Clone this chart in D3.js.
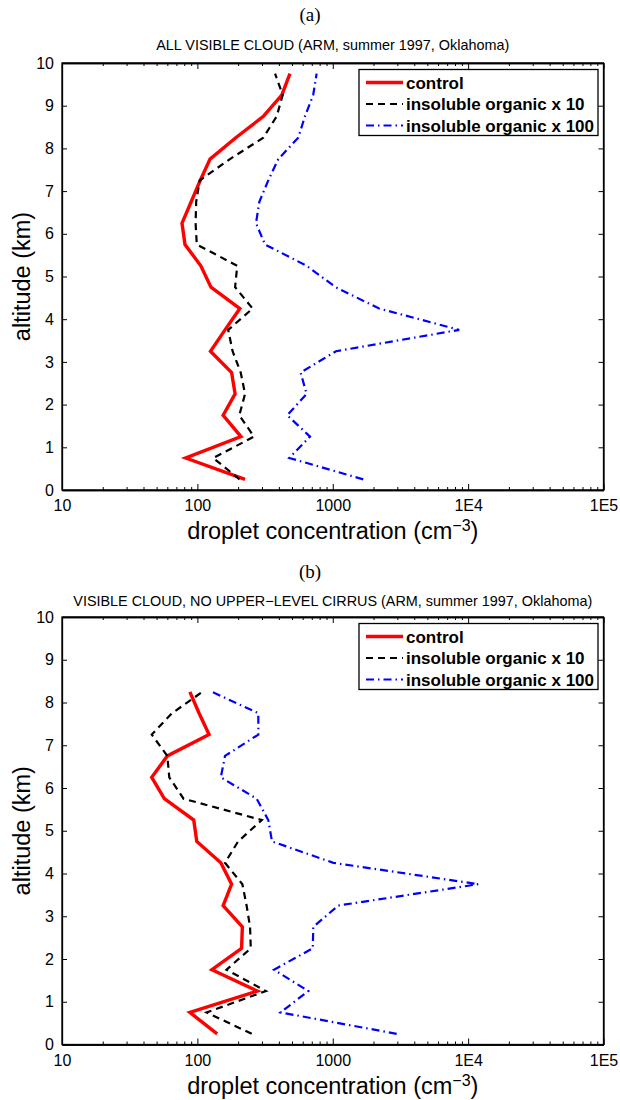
<!DOCTYPE html>
<html>
<head>
<meta charset="utf-8">
<script src="https://cdn.jsdelivr.net/npm/d3@7"></script>
<style>
  html, body { margin: 0; padding: 0; background: #fff; }
  svg { display: block; }
</style>
</head>
<body>
<svg id="chart" width="620" height="1100"></svg>
<script>
// ---------------- data ----------------
const altitudesA = [0.25,0.75,1.25,1.75,2.25,2.75,3.25,3.75,4.25,4.75,5.25,5.75,6.25,6.75,7.25,7.75,8.25,8.75,9.25,9.75];
const controlA  = [225, 82, 210, 155, 190, 179, 125, 160, 206, 126, 106, 81, 77, 90, 105, 124, 192, 307, 420, 483];
const organic10A = [205, 131, 262, 204, 225, 209, 182, 169, 256, 190, 197, 99, 97, 98, 104, 174, 307, 385, 427, 375];
const organic100A = [1680, 477, 679, 461, 641, 579, 1057, 8590, 2200, 1050, 641, 316, 271, 287, 334, 396, 556, 623, 717, 760];

const altitudesB = [0.25,0.75,1.25,1.75,2.25,2.75,3.25,3.75,4.25,4.75,5.25,5.75,6.25,6.75,7.25,7.75,8.25];
const controlB  = [140, 88, 277, 128, 212, 215, 155, 179, 149, 99, 94, 57, 46, 60, 122, 103, 88];
const organic10B = [252, 117, 321, 164, 248, 245, 231, 215, 160, 200, 299, 79, 62, 60, 46, 65, 109];
const organic100B = [2966, 412, 659, 368, 712, 718, 1097, 11900, 1010, 356, 334, 274, 149, 160, 282, 282, 128];

const seriesNames = ["control", "insoluble organic x 10", "insoluble organic x 100"];
const xTickValues = [10, 100, 1000, 10000, 100000];
const xTickLabels = ["10", "100", "1000", "1E4", "1E5"];
const yTickValues = [0,1,2,3,4,5,6,7,8,9,10];
const panelLetters = ["(a)", "(b)"];
const panelTitles = ["ALL VISIBLE CLOUD (ARM, summer 1997, Oklahoma)",
                     "VISIBLE CLOUD, NO UPPER\u2212LEVEL CIRRUS (ARM, summer 1997, Oklahoma)"];
const xAxisTitle = "droplet concentration (cm";
const xAxisSup = "\u22123";
const yAxisTitle = "altitude (km)";

// ---------------- styles ----------------
const styles = [
  {color: "#ff0000", width: 3.4, dash: null},
  {color: "#000000", width: 2.2, dash: "7,5"},
  {color: "#0000ff", width: 2.2, dash: "8,4,1.5,4"}
];
const FONT = "'Liberation Sans', Arial, Helvetica, sans-serif";

const svg = d3.select("#chart");
const left = 62, right = 603.5;
const x = d3.scaleLog().domain([10, 1e5]).range([left, right]);

const panels = [
  {top: 63, bottom: 490, alt: altitudesA, series: [controlA, organic10A, organic100A], letterY: 21, titleY: 50},
  {top: 617, bottom: 1044.5, alt: altitudesB, series: [controlB, organic10B, organic100B], letterY: 578, titleY: 606}
];

panels.forEach((p, pi) => {
  const y = d3.scaleLinear().domain([0, 10]).range([p.bottom, p.top]);
  const g = svg.append("g");

  // panel letter
  g.append("text").attr("x", 310).attr("y", p.letterY)
    .attr("text-anchor", "middle")
    .attr("font-family", "'Liberation Serif', 'Times New Roman', serif")
    .attr("font-size", 19).text(panelLetters[pi]);
  // title
  g.append("text").attr("x", (left + right) / 2).attr("y", p.titleY)
    .attr("text-anchor", "middle")
    .attr("font-family", FONT).attr("font-size", 14.4).text(panelTitles[pi]);

  // axes (ticks inward)
  const minorVals = [];
  for (let e = 1; e < 5; e++) for (let m = 2; m <= 9; m++) minorVals.push(m * Math.pow(10, e));

  const bottomAx = d3.axisBottom(x).tickValues(xTickValues)
    .tickFormat((d, i) => xTickLabels[i]).tickSizeInner(-6).tickSizeOuter(0).tickPadding(10);
  const gb = g.append("g").attr("transform", `translate(0,${p.bottom})`).call(bottomAx);
  gb.selectAll("text").attr("font-family", FONT).attr("font-size", 16).attr("fill", "#000");

  const bottomMinor = d3.axisBottom(x).tickValues(minorVals).tickFormat("").tickSizeInner(-3).tickSizeOuter(0);
  g.append("g").attr("transform", `translate(0,${p.bottom})`).call(bottomMinor);

  const topAx = d3.axisTop(x).tickValues(xTickValues).tickFormat("").tickSizeInner(-6).tickSizeOuter(0);
  g.append("g").attr("transform", `translate(0,${p.top})`).call(topAx);
  const topMinor = d3.axisTop(x).tickValues(minorVals).tickFormat("").tickSizeInner(-3).tickSizeOuter(0);
  g.append("g").attr("transform", `translate(0,${p.top})`).call(topMinor);

  const leftAx = d3.axisLeft(y).tickValues(yTickValues).tickFormat(d3.format("d"))
    .tickSizeInner(-5).tickSizeOuter(0).tickPadding(8);
  const gl = g.append("g").attr("transform", `translate(${left},0)`).call(leftAx);
  gl.selectAll("text").attr("font-family", FONT).attr("font-size", 16).attr("fill", "#000");

  const rightAx = d3.axisRight(y).tickValues(yTickValues).tickFormat("").tickSizeInner(-5).tickSizeOuter(0);
  g.append("g").attr("transform", `translate(${right},0)`).call(rightAx);

  g.selectAll(".domain").attr("stroke", "#000").attr("stroke-width", 1.3);
  g.selectAll(".tick line").attr("stroke", "#000").attr("stroke-width", 1);

  // frame
  g.append("rect").attr("x", left).attr("y", p.top)
    .attr("width", right - left).attr("height", p.bottom - p.top)
    .attr("fill", "none").attr("stroke", "#000").attr("stroke-width", 1.3);

  // lines
  const line = d3.line().x(d => x(d[0])).y(d => y(d[1]));
  p.series.forEach((vals, si) => {
    const pts = vals.map((v, i) => [v, p.alt[i]]);
    const st = styles[si];
    g.append("path").datum(pts).attr("d", line)
      .attr("fill", "none").attr("stroke", st.color).attr("stroke-width", st.width)
      .attr("stroke-dasharray", st.dash).attr("stroke-linejoin", "miter");
  });

  // legend
  const lg = g.append("g");
  lg.append("rect").attr("x", 359).attr("y", p.top + 6.5).attr("width", 239).attr("height", 66)
    .attr("fill", "#fff").attr("stroke", "#000").attr("stroke-width", 1.3);
  seriesNames.forEach((name, si) => {
    const cy = p.top + 19.5 + si * 21.5;
    const st = styles[si];
    lg.append("line").attr("x1", 366).attr("x2", 403).attr("y1", cy).attr("y2", cy)
      .attr("stroke", st.color).attr("stroke-width", st.width).attr("stroke-dasharray", st.dash);
    lg.append("text").attr("x", 406).attr("y", cy + 6)
      .attr("font-family", FONT).attr("font-weight", "bold").attr("font-size", 17).text(name);
  });

  // axis titles
  const xt = g.append("text").attr("x", (left + right) / 2).attr("y", p.bottom + 49)
    .attr("text-anchor", "middle").attr("font-family", FONT).attr("font-size", 23.5);
  xt.append("tspan").text(xAxisTitle);
  xt.append("tspan").attr("dy", -8).attr("font-size", 16).text(xAxisSup);
  xt.append("tspan").attr("dy", 8).text(")");

  g.append("text")
    .attr("transform", `translate(30,${(p.top + p.bottom) / 2}) rotate(-90)`)
    .attr("text-anchor", "middle").attr("font-family", FONT).attr("font-size", 23.5)
    .text(yAxisTitle);
});
</script>
</body>
</html>
